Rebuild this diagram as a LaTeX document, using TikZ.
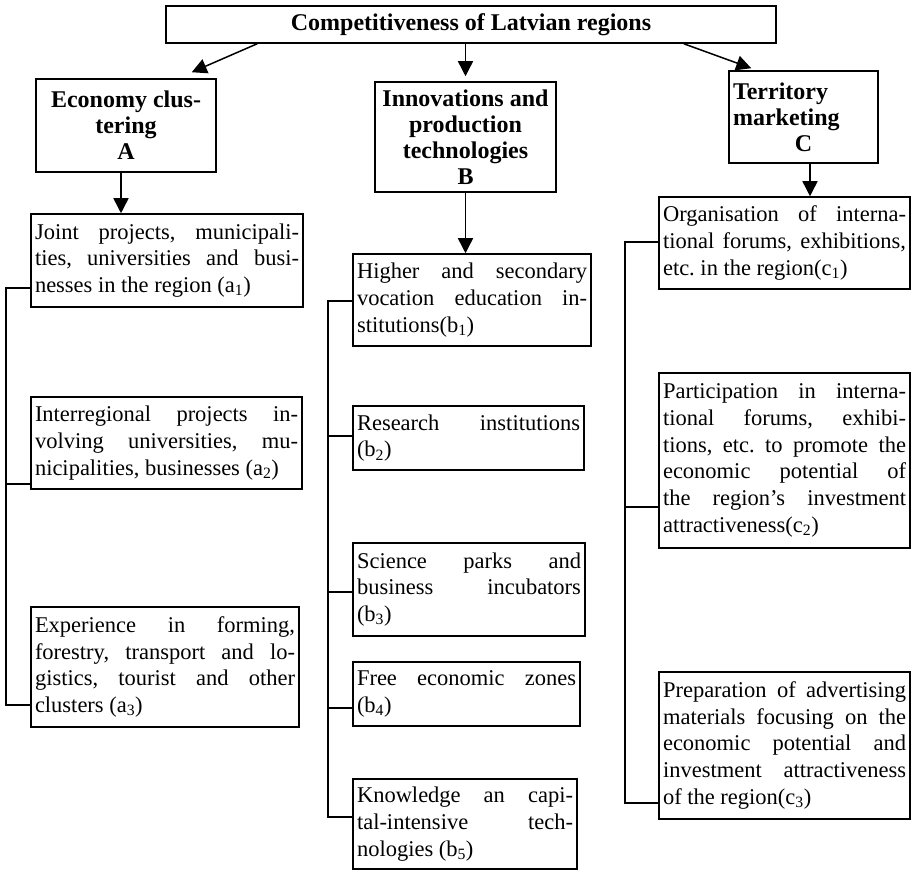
\documentclass[tikz,border=0pt]{standalone}
\usepackage{fontspec}
\setmainfont{Liberation Serif}
\usepackage{tikz}
\usetikzlibrary{arrows.meta}
\tikzset{>={Triangle[length=15pt,width=15pt]}}
\newcommand{\bodyfont}{\fontsize{22.5}{26.7}\selectfont\frenchspacing}
\newcommand{\headfont}{\fontsize{24}{26}\selectfont\bfseries}

\begin{document}
\begin{tikzpicture}[x=1pt,y=1pt,line width=1.5pt,
  head/.style={draw, font=\headfont, align=center, inner sep=3pt},
  leaf/.style 2 args={draw, font=\bodyfont, align=justify, inner xsep=4pt, inner ysep=2pt, text width=#1pt, minimum height=#2pt}]

\useasboundingbox (0,0) rectangle (912,872);

% top and the three directions
\node[head, minimum width=610pt, minimum height=37pt] (top) at (471,847.5) {Competitiveness of Latvian regions};
\node[head, minimum width=180pt, minimum height=93pt] (A) at (126,746.5) {Economy clus-\\tering\\A};
\node[head, minimum width=181pt, minimum height=110pt] (B) at (465.5,735) {Innovations and\\production\\technologies\\B};
\node[head, align=left, inner xsep=4pt, text width=141pt, minimum height=92pt] (C) at (803.5,755) {Territory\\marketing\\\makebox[\linewidth]{C}};

% column A
\node[leaf={264}{93}] (a1) at (167,611.5) {Joint projects, municipali-\linebreak ties, universities and busi-\linebreak nesses in the region (a\textsubscript{1})};
\node[leaf={263}{92}] (a2) at (166.5,429) {Interregional projects in-\linebreak volving universities, mu-\linebreak nicipalities, businesses (a\textsubscript{2})};
\node[leaf={260}{120}] (a3) at (165,205) {Experience in forming,\linebreak forestry, transport and lo-\linebreak gistics, tourist and other\linebreak clusters (a\textsubscript{3})};

% column B
\node[leaf={230}{92}] (b1) at (472,572) {Higher and secondary\linebreak vocation education in-\linebreak stitutions(b\textsubscript{1})};
\node[leaf={223}{64}] (b2) at (468.5,434) {Research institutions\linebreak (b\textsubscript{2})};
\node[leaf={224}{93}] (b3) at (469,282.5) {Science parks and\linebreak business incubators\linebreak (b\textsubscript{3})};
\node[leaf={219}{64}] (b4) at (466.5,178) {Free economic zones\linebreak (b\textsubscript{4})};
\node[leaf={216}{90}] (b5) at (465,48) {Knowledge an capi-\linebreak tal-intensive tech-\linebreak nologies (b\textsubscript{5})};

% column C
\node[leaf={243}{92}] (c1) at (784.5,629) {Organisation of interna-\linebreak tional forums, exhibitions,\linebreak etc. in the region(c\textsubscript{1})};
\node[leaf={243}{175}] (c2) at (784.5,411.5) {Participation in interna-\linebreak tional forums, exhibi-\linebreak tions, etc. to promote the\linebreak economic potential of\linebreak the region’s investment\linebreak attractiveness(c\textsubscript{2})};
\node[leaf={243}{147}] (c3) at (784.5,126.5) {Preparation of advertising\linebreak materials focusing on the\linebreak economic potential and\linebreak investment attractiveness\linebreak of the region(c\textsubscript{3})};

% arrows
\coordinate (Aout) at ([xshift=-5pt]A.south);
\coordinate (Cout) at ([xshift=6.5pt]C.south);
\draw[->] ([xshift=92pt]top.south west) -- ([xshift=-25pt,yshift=6pt]A.north east);
\draw[->] (top.south -| B.north) -- ([yshift=5pt]B.north);
\draw[->] ([xshift=-93pt]top.south east) -- ([xshift=23pt,yshift=2pt]C.north west);
\draw[->] (Aout) -- (Aout |- a1.north);
\draw[->] (B.south) -- (B.south |- b1.north);
\draw[->] (Cout) -- (Cout |- c1.north);

% brackets on the left of each column
\coordinate (a1t) at (6,584);
\coordinate (a2t) at (6,388);
\coordinate (a3t) at (6,167);
\coordinate (b1t) at (328,571);
\coordinate (b2t) at (328,436);
\coordinate (b3t) at (328,280);
\coordinate (b4t) at (328,164);
\coordinate (b5t) at (328,55);
\coordinate (c1t) at (625,630);
\coordinate (c2t) at (625,365);
\coordinate (c3t) at (625,69);

\draw (a1.west |- a1t) -- (a1t) -- (a3t) -- (a3.west |- a3t);
\draw (a2.west |- a2t) -- (a2t);
\draw (b1.west |- b1t) -- (b1t) -- (b5t) -- (b5.west |- b5t);
\foreach \i in {2,3,4}
  \draw (b\i.west |- b\i t) -- (b\i t);
\draw (c1.west |- c1t) -- (c1t) -- (c3t) -- (c3.west |- c3t);
\draw (c2.west |- c2t) -- (c2t);

\end{tikzpicture}
\end{document}
